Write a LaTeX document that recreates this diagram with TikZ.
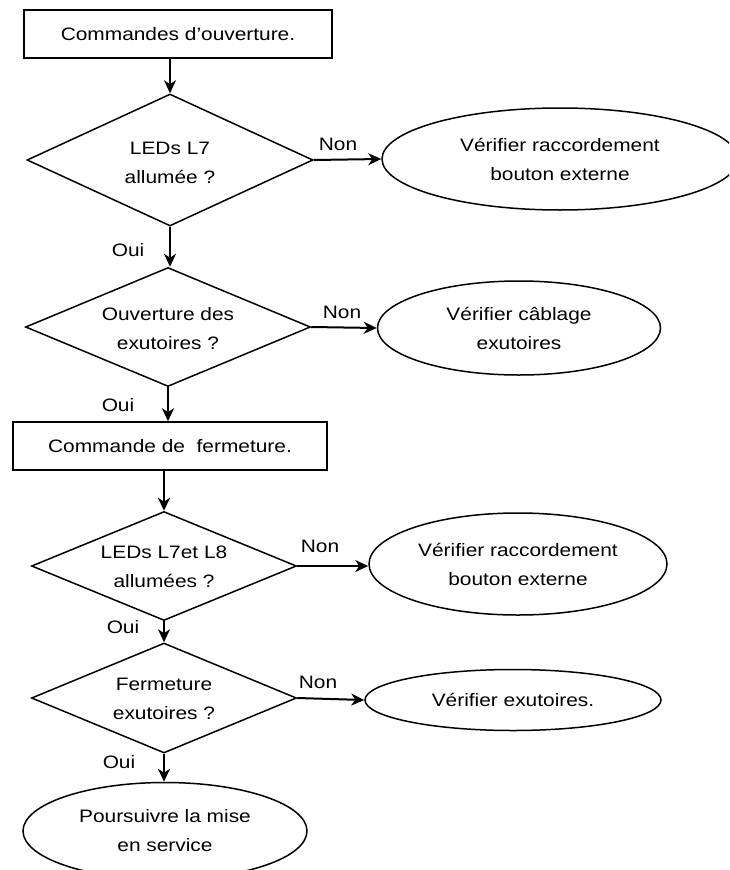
\documentclass[tikz,border=0pt]{standalone}
\usepackage{fontspec}
\setmainfont[FakeStretch=1.16]{Liberation Sans}
\usetikzlibrary{shapes.geometric,arrows.meta}
\begin{document}
\begin{tikzpicture}[x=1pt,y=-1pt,
  every node/.style={font=\fontsize{18}{29}\selectfont},
  boxnode/.style={draw,line width=1.5pt,rectangle,inner sep=0pt},
  decision/.style={draw,line width=1.5pt,diamond,inner sep=0pt},
  endnode/.style={draw,line width=1.5pt,ellipse,inner sep=0pt,align=center},
  lab/.style={inner sep=0pt},
  arr/.style={line width=2pt,-{Stealth[length=13pt,width=12pt,inset=4pt]}}]
\useasboundingbox (0,0) rectangle (729,870);
\clip (0,0) rectangle (729,870);
% nodes
\node[boxnode,minimum width=308pt,minimum height=48pt] (b1) at (178,34) {Commandes d’ouverture.};
\node[decision,minimum width=286pt,minimum height=132pt,label={[align=center,yshift=-3pt]center:LEDs L7\\allumée ?}] (d1) at (170,160) {};
\node[endnode,minimum width=356pt,minimum height=102pt] (e1) at (560,159) {Vérifier raccordement\\bouton externe};
\node[lab] (non1) at (338,144) {Non};
\node[lab] (oui1) at (128,250) {Oui};

\node[decision,minimum width=285pt,minimum height=119pt,label={[align=center,yshift=-2pt]center:Ouverture des\\exutoires ?}] (d2) at (168,327) {};
\node[endnode,minimum width=283pt,minimum height=94pt] (e2) at (519,328) {Vérifier câblage\\exutoires};
\node[lab] (non2) at (342,312) {Non};
\node[lab] (oui2) at (118,405) {Oui};

\node[boxnode,minimum width=314pt,minimum height=48pt] (b2) at (170,446) {Commande de\ \ fermeture.};

\node[decision,minimum width=265pt,minimum height=109pt,label={[align=center,yshift=-1pt]center:LEDs L7et L8\\allumées ?}] (d3) at (164,566) {};
\node[endnode,minimum width=298pt,minimum height=102pt] (e3) at (518,564) {Vérifier raccordement\\bouton externe};
\node[lab] (non3) at (320,546) {Non};
\node[lab] (oui3) at (123,627) {Oui};

\node[decision,minimum width=265pt,minimum height=110pt,label={[align=center,yshift=-1pt]center:Fermeture\\exutoires ?}] (d4) at (164,698) {};
\node[endnode,minimum width=296pt,minimum height=61pt] (e4) at (513,700) {Vérifier exutoires.};
\node[lab] (non4) at (318,682) {Non};
\node[lab] (oui4) at (119,762) {Oui};

\node[endnode,minimum width=284pt,minimum height=97pt] (e5) at (165,831) {Poursuivre la mise\\en service};
% connectors
\draw[arr] (d1.north |- b1.south) -- (d1.north);
\draw[arr] (d1.east) -- (e1.west);
\draw[arr] (d1.south) -- (d2.north -| d1.south);
\draw[arr] (d2.east) -- (e2.west);
\draw[arr] (d2.south) -- (b2.north -| d2.south);
\draw[arr] (d3.north |- b2.south) -- (d3.north);
\draw[arr] (d3.east) -- (e3.west |- d3.east);
\draw[arr] (d3.south) -- (d4.north);
\draw[arr] (d4.east) -- (e4.west);
\draw[arr] (d4.south) -- (e5.north -| d4.south);
\end{tikzpicture}
\end{document}
